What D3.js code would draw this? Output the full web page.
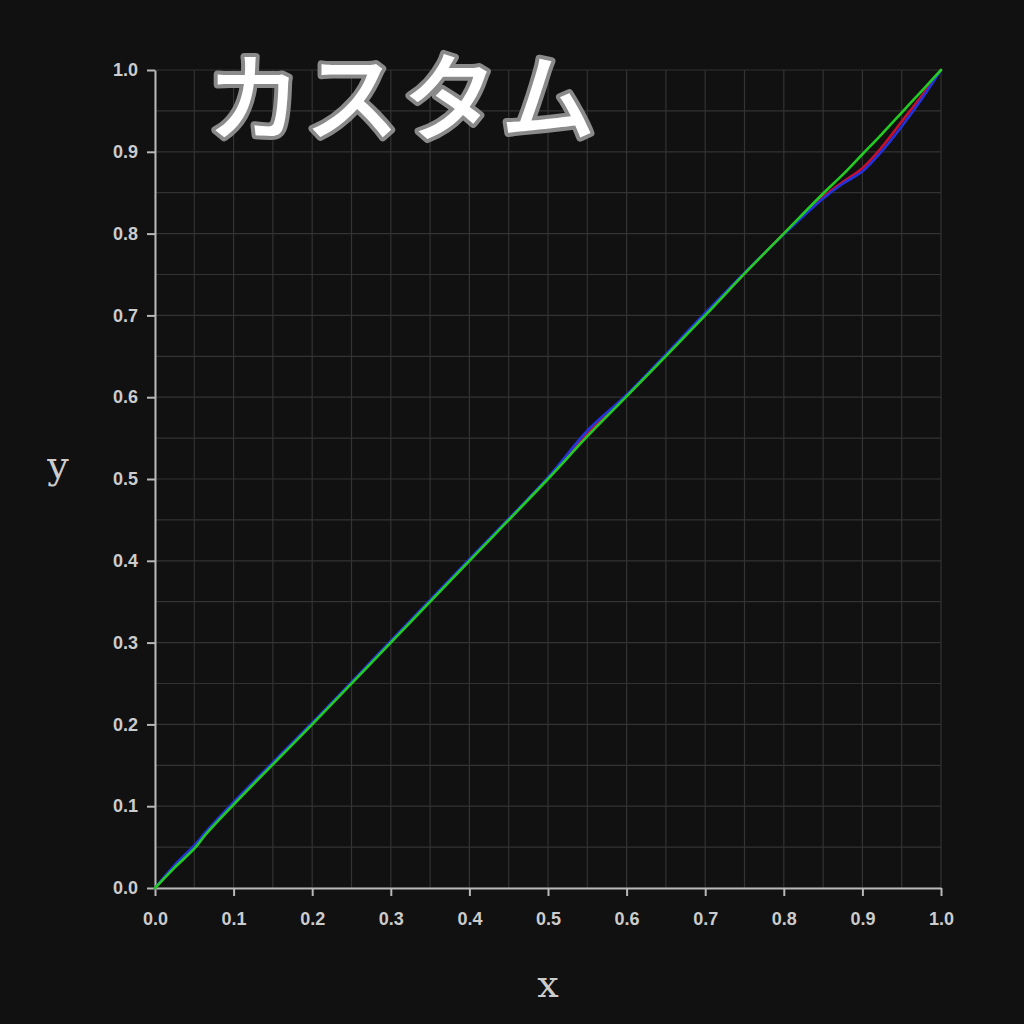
<!DOCTYPE html>
<html>
<head>
<meta charset="utf-8">
<script src="https://cdn.jsdelivr.net/npm/d3@7"></script>
<style>
  html, body { margin: 0; padding: 0; background: #111111; }
  svg { display: block; }
</style>
</head>
<body>
<div id="chart"></div>
<script>
// curve samples (x, y pairs)
var redX   = [0, 0.025, 0.05, 0.065, 0.1, 0.2, 0.3, 0.4, 0.5, 0.55, 0.6, 0.7, 0.75, 0.8, 0.85, 0.875, 0.9, 0.925, 0.95, 0.975, 1.0];
var redY   = [0, 0.026, 0.05, 0.067, 0.103, 0.201, 0.301, 0.401, 0.501, 0.556, 0.602, 0.701, 0.751, 0.8, 0.845, 0.863, 0.88, 0.906, 0.937, 0.968, 1.0];
var greenX = [0, 0.025, 0.05, 0.065, 0.1, 0.2, 0.3, 0.4, 0.5, 0.55, 0.6, 0.7, 0.75, 0.8, 0.85, 0.875, 0.9, 0.925, 0.95, 0.975, 1.0];
var greenY = [0, 0.025, 0.048, 0.066, 0.102, 0.2, 0.3, 0.4, 0.5, 0.552, 0.601, 0.7, 0.751, 0.8, 0.849, 0.872, 0.897, 0.922, 0.948, 0.974, 1.0];
var blueX  = [0, 0.025, 0.05, 0.065, 0.1, 0.2, 0.3, 0.4, 0.5, 0.55, 0.6, 0.7, 0.75, 0.8, 0.85, 0.875, 0.9, 0.925, 0.95, 0.975, 1.0];
var blueY  = [0, 0.028, 0.052, 0.069, 0.105, 0.202, 0.302, 0.402, 0.502, 0.559, 0.603, 0.703, 0.752, 0.799, 0.843, 0.861, 0.876, 0.901, 0.931, 0.964, 1.0];
var tickVals = [0, 0.1, 0.2, 0.3, 0.4, 0.5, 0.6, 0.7, 0.8, 0.9, 1.0];
var gridVals = d3.range(0, 21).map(function(i){ return i / 20; });
var titleText = "カスタム";

var W = 1024, H = 1024;
var padL = 155, padR = 941, padT = 70, padB = 888;

var svg = d3.select('#chart').append('svg')
  .attr('width', W)
  .attr('height', H);

svg.append('rect')
  .attr('width', W).attr('height', H)
  .attr('fill', '#111111');

var x = d3.scaleLinear().domain([0, 1]).range([padL, padR]);
var y = d3.scaleLinear().domain([0, 1]).range([padB, padT]);

//grid every 0.05
var grid = svg.append('g').attr('class', 'grid');
grid.selectAll('line.v').data(gridVals).enter().append('line')
  .attr('x1', function(d){ return x(d); })
  .attr('x2', function(d){ return x(d); })
  .attr('y1', y(0)).attr('y2', y(1))
  .attr('stroke', '#333333').attr('stroke-width', 1.2);
grid.selectAll('line.h').data(gridVals).enter().append('line')
  .attr('y1', function(d){ return y(d); })
  .attr('y2', function(d){ return y(d); })
  .attr('x1', x(0)).attr('x2', x(1))
  .attr('stroke', '#333333').attr('stroke-width', 1.2);

//axes
var xAxis = d3.axisBottom(x).tickValues(tickVals).tickFormat(d3.format('.1f')).tickSize(8).tickSizeOuter(0);
var yAxis = d3.axisLeft(y).tickValues(tickVals).tickFormat(d3.format('.1f')).tickSize(8).tickSizeOuter(0);

var gx = svg.append('g').attr('transform', 'translate(0,' + padB + ')').call(xAxis);
var gy = svg.append('g').attr('transform', 'translate(' + padL + ',0)').call(yAxis);

[gx, gy].forEach(function(g){
  g.select('.domain').attr('stroke', '#b8b8b8').attr('stroke-width', 2);
  g.selectAll('.tick line').attr('stroke', '#b8b8b8').attr('stroke-width', 2);
  g.selectAll('.tick text')
    .attr('fill', '#cccccc')
    .style('font-family', '"Liberation Sans", Arial, sans-serif')
    .style('font-weight', 'bold')
    .style('font-size', '18px');
});
gx.selectAll('.tick text').attr('y', 24).attr('dy', '0.71em');
gy.selectAll('.tick text').attr('x', -17);

//curves
var series = [
  { xs: redX,   ys: redY,   color: '#c8102e' },
  { xs: blueX,  ys: blueY,  color: '#2233dd' },
  { xs: greenX, ys: greenY, color: '#22cc22' }
];

var line = d3.line()
  .x(function(d){ return x(d[0]); })
  .y(function(d){ return y(d[1]); })
  .curve(d3.curveCatmullRom.alpha(0.5));

series.forEach(function(s){
  var pts = s.xs.map(function(v, i){ return [v, s.ys[i]]; });
  svg.append('path')
    .datum(pts)
    .attr('d', line)
    .attr('fill', 'none')
    .attr('stroke', s.color)
    .attr('stroke-width', 2.6)
    .attr('stroke-linecap', 'round');
});

//axis labels
svg.append('text')
  .attr('x', 548).attr('y', 997)
  .attr('text-anchor', 'middle')
  .attr('fill', '#cccccc')
  .style('font-family', '"DejaVu Serif", "Liberation Serif", serif')
  .style('font-size', '38px')
  .text('x');
svg.append('text')
  .attr('x', 58).attr('y', 478)
  .attr('text-anchor', 'middle')
  .attr('fill', '#cccccc')
  .style('font-family', '"DejaVu Serif", "Liberation Serif", serif')
  .style('font-size', '38px')
  .text('y');

//title
svg.append('text')
  .attr('x', 206).attr('y', 133)
  .attr('fill', '#ffffff')
  .attr('stroke', '#8a8a8a')
  .attr('stroke-width', 8)
  .attr('stroke-linejoin', 'round')
  .attr('paint-order', 'stroke')
  .style('font-family', '"Noto Sans CJK JP", sans-serif')
  .style('font-weight', '500')
  .style('font-size', '96px')
  .style('letter-spacing', '2px')
  .text(titleText);
</script>
</body>
</html>
